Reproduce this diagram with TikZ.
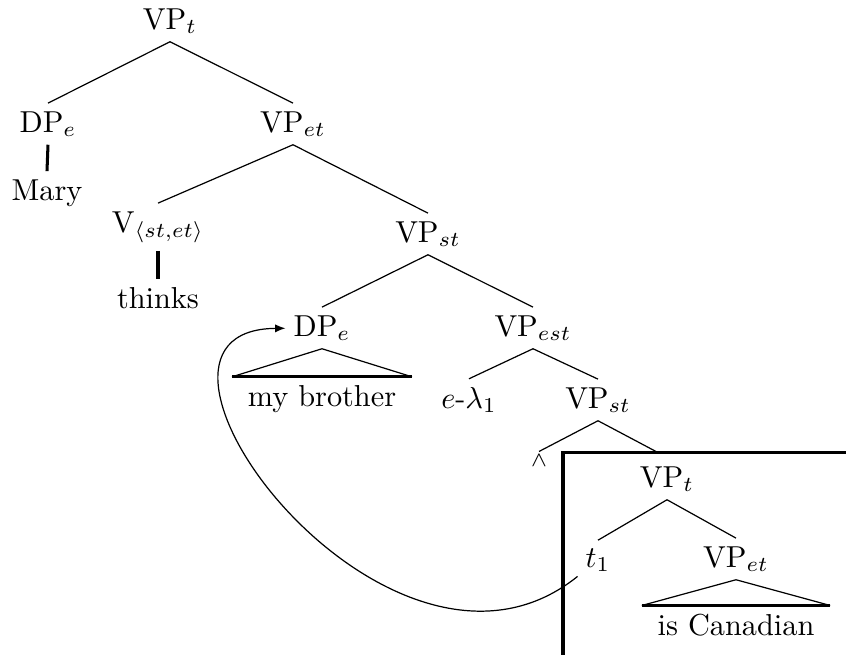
\documentclass[tikz,border=0pt]{standalone}
\usepackage{tikz}
\usetikzlibrary{positioning,arrows.meta,calc}
\tikzset{
  cat/.style={anchor=base, inner sep=2.5pt},
  leaf/.style={cat, inner xsep=5pt},
  lam/.style={inner sep=1pt, font=\scriptsize},
  branch/.style={line width=0.4pt},
  unary/.style={line width=1pt},
  roof/.style={line width=1pt},
  movement/.style={-{Latex[length=1.2mm,width=0.95mm]}, line width=0.4pt},
  frame/.style={line width=1pt}
}

\begin{document}
\begin{tikzpicture}[x=0.0116cm, y=-0.0116cm]
    \useasboundingbox (0,0) rectangle (846,654);
    % upper tree
    \node[cat] (vp1) at (170,29) {VP$_t$};
    \node[cat] (dp1) at (48,132) {DP$_e$};
    \node[cat] (mary) at (47,200) {Mary};
    \node[cat] (vp2) at (293,132) {VP$_{et}$};
    \node[cat] (verb) at (158,232) {V$_{\langle st,et\rangle}$};
    \node[cat] (thinks) at (158,308) {thinks};
    \node[cat] (vp3) at (428,242) {VP$_{st}$};
    \node[cat] (dp2) at (322,336) {DP$_e$};
    \node[leaf] (brother) at (322,406) {my brother};
    \node[cat] (vp4) at (533,336) {VP$_{est}$};
    \node[cat] (lambda) at (469,408) {$e$-$\lambda_1$};
    \node[cat] (vp5) at (598,408) {VP$_{st}$};
    \node[lam] (wedge) at (539,461) {$\wedge$};
    \coordinate (boxtop) at (657,452);
    % boxed part
    \node[cat] (vp6) at (667,487) {VP$_t$};
    \node[cat] (trace) at (598,567) {$t_1$};
    \node[cat] (vp7) at (736,567) {VP$_{et}$};
    \node[leaf] (canadian) at (736,635) {is Canadian};
    \draw[branch] (vp1.south) -- (dp1.north);
    \draw[branch] (vp1.south) -- (vp2.north);
    \draw[unary] (dp1.south) -- (mary.north);
    \draw[branch] (vp2.south) -- (verb.north);
    \draw[branch] (vp2.south) -- (vp3.north);
    \draw[unary] (verb.south) -- (thinks.north);
    \draw[branch] (vp3.south) -- (dp2.north);
    \draw[branch] (vp3.south) -- (vp4.north);
    \draw[branch] (dp2.south) -- (brother.north west);
    \draw[branch] (dp2.south) -- (brother.north east);
    \draw[roof] (brother.north west) -- (brother.north east);
    \draw[branch] (vp4.south) -- (lambda.north);
    \draw[branch] (vp4.south) -- (vp5.north);
    \draw[branch] (vp5.south) -- (wedge.north);
    \draw[branch] (vp5.south) -- (boxtop);
    \draw[frame] (563,670) |- (870,452);
    \draw[branch] (vp6.south) -- (trace.north);
    \draw[branch] (vp6.south) -- (vp7.north);
    \draw[branch] (vp7.south) -- (canadian.north west);
    \draw[branch] (vp7.south) -- (canadian.north east);
    \draw[roof] (canadian.north west) -- (canadian.north east);
    % movement arrow
    \draw[movement] (trace) .. controls (388,729) and (92,330) .. (dp2);
\end{tikzpicture}
\end{document}
